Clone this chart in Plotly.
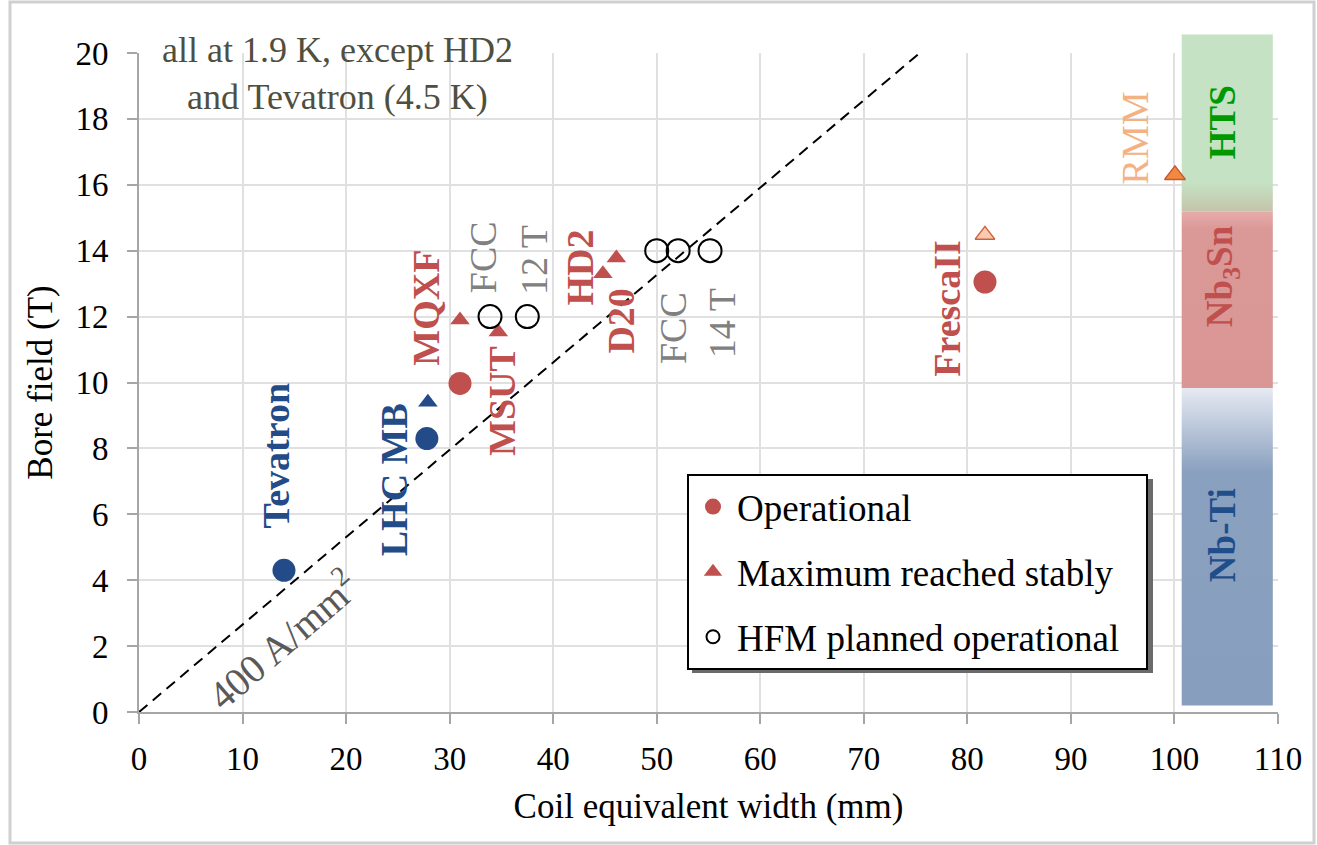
import plotly.graph_objects as go

# ---------------- data ----------------
# Operational (filled circles)
op_names = ["Tevatron", "LHC MB", "MQXF", "FrescaII"]
op_x = [14.0, 27.8, 31.0, 81.7]
op_y = [4.3, 8.3, 9.97, 13.05]
op_group = ["NbTi", "NbTi", "Nb3Sn", "Nb3Sn"]

# Maximum reached stably (triangles)
max_names = ["LHC MB", "MQXF", "MSUT", "D20", "HD2"]
max_x = [27.9, 31.0, 34.7, 44.8, 46.1]
max_y = [9.4, 11.9, 11.53, 13.3, 13.78]
max_group = ["NbTi", "Nb3Sn", "Nb3Sn", "Nb3Sn", "Nb3Sn"]

# FrescaII and RMM maxima (lighter triangles)
fres_max_x = [81.7]
fres_max_y = [14.48]
rmm_x = [100.05]
rmm_y = [16.3]

# HFM planned operational (open circles)
hfm_names = ["FCC 12 T", "FCC 12 T", "FCC 14 T", "FCC 14 T", "FCC 14 T"]
hfm_x = [33.9, 37.5, 50.0, 52.07, 55.15]
hfm_y = [12.0, 12.0, 14.0, 14.0, 14.0]

# 400 A/mm2 line
line_x = [0.0, 75.4]
line_y = [0.0, 20.0]

# Conductor bands (x extent, y extents)
band_x = [100.7, 109.5]
nbti_y = [0.2, 9.83]
nb3sn_y = [9.83, 15.18]
hts_y = [15.18, 20.56]

# Point labels (text, x, y) in data units
label_text = ["Tevatron", "LHC MB", "MQXF", "MSUT", "HD2", "D20", "FrescaII",
              "FCC", "12 T", "FCC", "14 T", "RMM"]
label_x = [13.26, 24.65, 27.75, 35.06, 42.5, 46.46, 78.0,
           33.25, 38.15, 51.6, 56.3, 96.2]
label_y = [7.79, 7.04, 12.28, 9.44, 13.49, 11.85, 12.26,
           13.81, 13.72, 11.66, 11.8, 17.41]
label_kind = ["blue", "blue", "red", "red", "red", "red", "red",
              "gray", "gray", "gray", "gray", "rmm"]

band_labels = ["Nb-Ti", "Nb<sub>3</sub>Sn", "HTS"]
band_label_x = [104.6, 104.6, 104.6]
band_label_y = [5.37, 13.23, 17.9]

legend_names = ["Operational", "Maximum reached stably", "HFM planned operational"]

x_ticks = list(range(0, 111, 10))
y_ticks = list(range(0, 21, 2))

# ---------------- styles ----------------
BLUE = "#234b87"
RED = "#c0504d"
GRAY = "#808080"
SERIF = "Liberation Serif, Times New Roman, serif"
Y_MAX = 20.0
X_MAX = 110.0

W, H = 1317, 845
ML, MR, MT, MB = 139, 39, 53, 133
PW, PH = W - ML - MR, H - MT - MB


def px2paper_x(px):
    return (px - ML) / PW


def px2paper_y(py):
    return (H - MB - py) / PH


fig = go.Figure()


def band_trace(yr, colorscale):
    x0, x1 = band_x
    y0, y1 = yr
    return go.Scatter(
        x=[x0, x1, x1, x0, x0], y=[y0, y0, y1, y1, y0],
        mode="lines", fill="toself", line=dict(width=0),
        fillgradient=dict(type="vertical", colorscale=colorscale, start=y0, stop=y1),
        hoverinfo="skip", showlegend=False)


nbti_solid_frac = (7.3 - nbti_y[0]) / (nbti_y[1] - nbti_y[0])
fig.add_trace(band_trace(nbti_y, [[0, "rgb(136,158,190)"], [nbti_solid_frac, "rgb(138,160,191)"],
                                  [1, "rgb(230,234,242)"]]))
fig.add_trace(band_trace(nb3sn_y, [[0, "rgb(217,150,148)"], [0.9, "rgb(218,152,150)"],
                                   [1, "rgb(230,172,170)"]]))
hts_frac = (16.1 - hts_y[0]) / (hts_y[1] - hts_y[0])
fig.add_trace(band_trace(hts_y, [[0, "rgb(196,196,170)"], [hts_frac, "rgb(198,226,196)"],
                                 [1, "rgb(198,226,196)"]]))

# 400 A/mm2 line
fig.add_trace(go.Scatter(x=line_x, y=line_y, mode="lines",
                         line=dict(color="black", width=2, dash="11px,7px"),
                         hoverinfo="skip", showlegend=False))

# Maximum triangles
fig.add_trace(go.Scatter(
    x=max_x, y=max_y, mode="markers", showlegend=False,
    marker=dict(symbol="triangle-up", size=17,
                color=[BLUE if g == "NbTi" else RED for g in max_group],
                line=dict(width=0))))
fig.add_trace(go.Scatter(
    x=fres_max_x, y=fres_max_y, mode="markers", showlegend=False,
    marker=dict(symbol="triangle-up", size=17, color="#f8cbad",
                line=dict(width=1.5, color="#d0603f"))))
fig.add_trace(go.Scatter(
    x=rmm_x, y=rmm_y, mode="markers", showlegend=False,
    marker=dict(symbol="triangle-up", size=18, color="#f08a3c",
                line=dict(width=1.5, color="#c8553a"))))

# Operational circles
fig.add_trace(go.Scatter(
    x=op_x, y=op_y, mode="markers", showlegend=False,
    marker=dict(symbol="circle", size=23,
                color=[BLUE if g == "NbTi" else RED for g in op_group],
                line=dict(width=0))))

# HFM planned open circles
fig.add_trace(go.Scatter(
    x=hfm_x, y=hfm_y, mode="markers", showlegend=False,
    marker=dict(symbol="circle-open", size=23, color="black", line=dict(width=2))))

# Legend-only entries
PAD = "\u00a0\u00a0\u00a0"
fig.add_trace(go.Scatter(x=[None], y=[None], mode="markers", name=legend_names[0],
                         legendgroup="a",
                         marker=dict(symbol="circle", size=16, color=RED)))
fig.add_trace(go.Scatter(x=[None], y=[None], mode="markers", name=legend_names[1] + PAD,
                         legendgroup="b",
                         marker=dict(symbol="triangle-up", size=16, color=RED)))
fig.add_trace(go.Scatter(x=[None], y=[None], mode="markers", name=legend_names[2],
                         legendgroup="c",
                         marker=dict(symbol="circle-open", size=13, color="black",
                                     line=dict(width=2))))

annotations = []
kind_style = {
    "blue": dict(color=BLUE, bold=True),
    "red": dict(color=RED, bold=True),
    "gray": dict(color=GRAY, bold=False),
    "rmm": dict(color="#f4b183", bold=False),
}
for t, x, y, k in zip(label_text, label_x, label_y, label_kind):
    st = kind_style[k]
    txt = f"<b>{t}</b>" if st["bold"] else t
    annotations.append(dict(x=x, y=y, xref="x", yref="y", text=txt, showarrow=False,
                            textangle=-90, xanchor="center", yanchor="middle",
                            font=dict(family=SERIF, size=38, color=st["color"])))

band_colors = ["#1f4e8a", RED, "#009a00"]
for t, x, y, c in zip(band_labels, band_label_x, band_label_y, band_colors):
    annotations.append(dict(x=x, y=y, xref="x", yref="y", text=f"<b>{t}</b>", showarrow=False,
                            textangle=-90, xanchor="center", yanchor="middle",
                            font=dict(family=SERIF, size=37, color=c)))

annotations.append(dict(x=13.77, y=2.21, xref="x", yref="y", text="400 A/mm<sup>2</sup>",
                        showarrow=False, textangle=-41, xanchor="center", yanchor="middle",
                        font=dict(family=SERIF, size=40, color="#595959")))
annotations.append(dict(x=19.15, y=19.37, xref="x", yref="y",
                        text="all at 1.9 K, except HD2<br>and Tevatron (4.5 K)",
                        showarrow=False, align="center", xanchor="center", yanchor="middle",
                        font=dict(family=SERIF, size=36, color="#4f4f40")))

LEG_L, LEG_T = 687, 474
shapes = [
    # HTS band part above the plot top
    dict(type="rect", xref="x", yref="paper", x0=band_x[0], x1=band_x[1],
         y0=1.0, y1=hts_y[1] / Y_MAX, fillcolor="rgb(198,226,196)", line=dict(width=0),
         layer="below"),
    # legend drop shadow (legend box is drawn on top of it)
    dict(type="rect", xref="paper", yref="paper",
         x0=px2paper_x(LEG_L + 5), x1=px2paper_x(1153), y0=px2paper_y(673),
         y1=px2paper_y(LEG_T + 5),
         fillcolor="#6a6a6a", line=dict(width=0), layer="above"),
    # chart outer border
    dict(type="rect", xref="paper", yref="paper",
         x0=px2paper_x(10), x1=px2paper_x(1314), y0=px2paper_y(843), y1=px2paper_y(2),
         line=dict(color="#d0d0d0", width=3), fillcolor="rgba(0,0,0,0)", layer="below"),
]

fig.update_layout(
    width=W, height=H,
    margin=dict(l=ML, r=MR, t=MT, b=MB),
    paper_bgcolor="white", plot_bgcolor="white",
    font=dict(family=SERIF, color="black"),
    annotations=annotations, shapes=shapes,
    legend=dict(x=px2paper_x(LEG_L), y=px2paper_y(LEG_T), xanchor="left", yanchor="top",
                bgcolor="white", bordercolor="black", borderwidth=2,
                font=dict(family=SERIF, size=37, color="black"),
                tracegroupgap=14, itemwidth=38),
    showlegend=True,
)
fig.update_xaxes(range=[0, X_MAX], tickvals=x_ticks, ticks="outside", ticklen=10,
                 tickwidth=2, tickcolor="#a6a6a6", showline=True, linecolor="#a6a6a6",
                 linewidth=2, showgrid=True, gridcolor="#e0e0e0", gridwidth=2, zeroline=False,
                 tickfont=dict(family=SERIF, size=33, color="black"), ticklabelstandoff=6,
                 title=dict(text="Coil equivalent width (mm)", standoff=18,
                            font=dict(family=SERIF, size=35, color="black")))
fig.update_yaxes(range=[0, Y_MAX], tickvals=y_ticks, ticks="outside", ticklen=10,
                 tickwidth=2, tickcolor="#a6a6a6", showline=True, linecolor="#a6a6a6",
                 linewidth=2, showgrid=True, gridcolor="#e0e0e0", gridwidth=2, zeroline=False,
                 tickfont=dict(family=SERIF, size=33, color="black"), ticklabelstandoff=12,
                 title=dict(text="Bore field (T)", standoff=12,
                            font=dict(family=SERIF, size=35, color="black")))

fig.write_html("out.html")
